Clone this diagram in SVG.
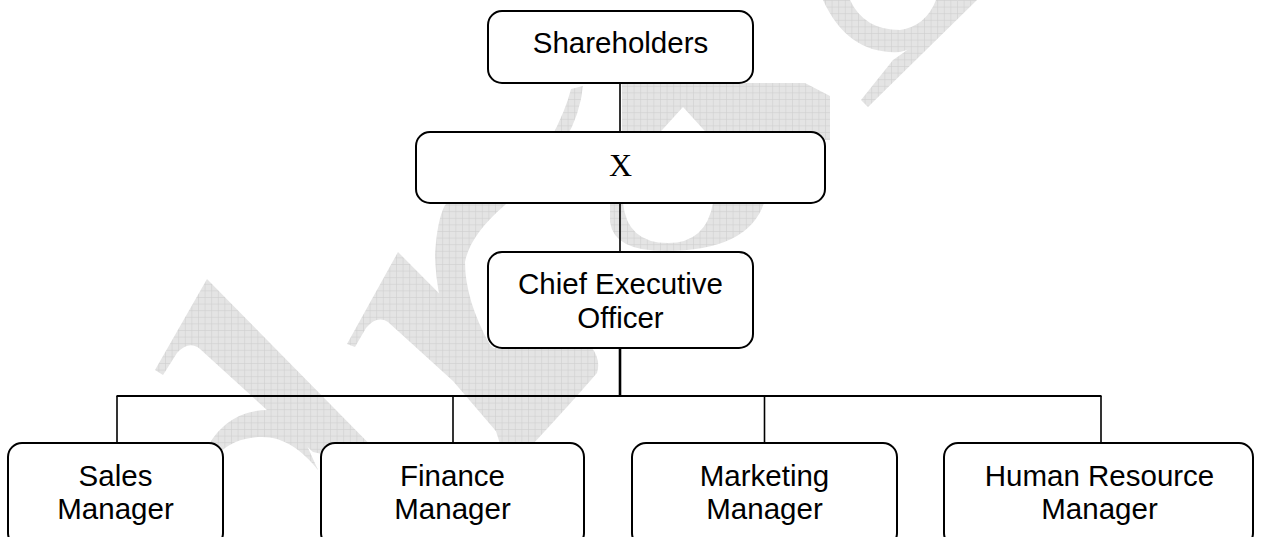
<svg xmlns="http://www.w3.org/2000/svg" width="1262" height="537" viewBox="0 0 1262 537">
  <defs>
    <!-- fine grid texture used for the background watermark -->
    <pattern id="grid" patternUnits="userSpaceOnUse" width="6.6" height="6.6">
      <rect width="6.6" height="6.6" fill="#e4e4e4"/>
      <path d="M0 0.3H6.6M0.3 0V6.6" stroke="#cfcfcf" stroke-width="0.7"/>
    </pattern>
    <style>
      .box { fill: #ffffff; stroke: #000000; stroke-width: 2; }
      .lbl { font-family: "Liberation Sans", Arial, sans-serif; font-size: 29.5px; fill: #000000; text-anchor: middle; }
      .lbl-serif { font-family: "Liberation Serif", "Times New Roman", serif; font-size: 32px; fill: #000000; text-anchor: middle; }
      .wire { stroke: #000000; stroke-width: 1.6; fill: none; }
      .wm { fill: url(#grid); stroke: none; }
    </style>
  </defs>

  <rect width="1262" height="537" fill="#ffffff"/>

  <!-- background watermark -->
  <g id="watermark">
    <!-- first arch stroke -->
    <path class="wm" d="M155,370 L207,279 L395,470 L313,452 L200,349 Q189,340 177,353 L163,375 Z"/>
    <!-- crescent below the first arch -->
    <path class="wm" d="M208,446 C224,418 248,409 272,410 L300,430 L318,470 C302,450 284,437 262,437 C244,437 230,443 220,452 Z"/>
    <!-- second arch stroke -->
    <path class="wm" d="M347,344 L398,252 L545,400 L533,442 L507,444 L453,381 L388,322 Q377,315 366,328 L355,347 Z"/>
    <!-- curved tail under the middle box -->
    <path class="wm" d="M470,348 L592,348 Q601,360 597,373 Q572,402 533,444 L500,444 Z"/>
    <!-- tall S-shaped stroke -->
    <path class="wm" d="M571,89 L583,86 Q580,115 565,140 Q530,180 505,205 Q470,235 465,262 Q465,300 490,345 L455,350 Q436,300 435,255 Q437,220 445,205 Q500,160 550,140 Q566,110 571,89 Z"/>
    <!-- band between the top boxes -->
    <path class="wm" d="M622,83 L805,83 L830,96 L830,140 L713,140 L683,107 L653,140 L622,140 Z"/>
    <!-- loop bottom under the second box -->
    <path class="wm" d="M610,203 L610,222 Q614,251 665,251 Q748,251 764,203 L713,203 Q706,243 668,243 Q627,243 623,203 Z"/>
    <!-- loop and diagonal stroke at the top right -->
    <path class="wm" d="M823,0 Q848,55 900,52 Q940,44 958,0 L936,0 Q926,26 900,30 Q864,30 850,0 Z"/>
    <path class="wm" d="M958,0 L977,0 L868,107 L861,100 L893,60 Q932,34 958,0 Z"/>
  </g>

  <!-- connectors -->
  <g id="connectors">
    <line class="wire" x1="620" y1="83" x2="620" y2="132"/>
    <line class="wire" x1="620" y1="203" x2="620" y2="252"/>
    <line class="wire" x1="620" y1="348" x2="620" y2="396" style="stroke-width:2.6"/>
    <line class="wire" x1="116.5" y1="396" x2="1101.5" y2="396" style="stroke-width:2"/>
    <line class="wire" x1="117" y1="396" x2="117" y2="443"/>
    <line class="wire" x1="453" y1="396" x2="453" y2="443"/>
    <line class="wire" x1="764.5" y1="396" x2="764.5" y2="443"/>
    <line class="wire" x1="1101" y1="396" x2="1101" y2="443"/>
  </g>

  <!-- nodes -->
  <g id="shareholders">
    <rect class="box" x="488" y="11" width="265" height="72" rx="14"/>
    <text class="lbl" x="620.5" y="52.5">Shareholders</text>
  </g>
  <g id="x-node">
    <rect class="box" x="416" y="132" width="409" height="71" rx="14"/>
    <text class="lbl-serif" x="620.5" y="175.5">X</text>
  </g>
  <g id="ceo">
    <rect class="box" x="488" y="252" width="265" height="96" rx="14"/>
    <text class="lbl" x="620.5" y="293.5">Chief Executive</text>
    <text class="lbl" x="620.5" y="327.5">Officer</text>
  </g>
  <g id="sales-manager">
    <rect class="box" x="8" y="443" width="215" height="104" rx="14"/>
    <text class="lbl" x="115.5" y="485.5">Sales</text>
    <text class="lbl" x="115.5" y="518.5">Manager</text>
  </g>
  <g id="finance-manager">
    <rect class="box" x="321" y="443" width="263" height="104" rx="14"/>
    <text class="lbl" x="452.5" y="485.5">Finance</text>
    <text class="lbl" x="452.5" y="518.5">Manager</text>
  </g>
  <g id="marketing-manager">
    <rect class="box" x="632" y="443" width="265" height="104" rx="14"/>
    <text class="lbl" x="764.5" y="485.5">Marketing</text>
    <text class="lbl" x="764.5" y="518.5">Manager</text>
  </g>
  <g id="hr-manager">
    <rect class="box" x="944" y="443" width="309" height="104" rx="14"/>
    <text class="lbl" x="1099.5" y="485.5">Human Resource</text>
    <text class="lbl" x="1099.5" y="518.5">Manager</text>
  </g>
</svg>
